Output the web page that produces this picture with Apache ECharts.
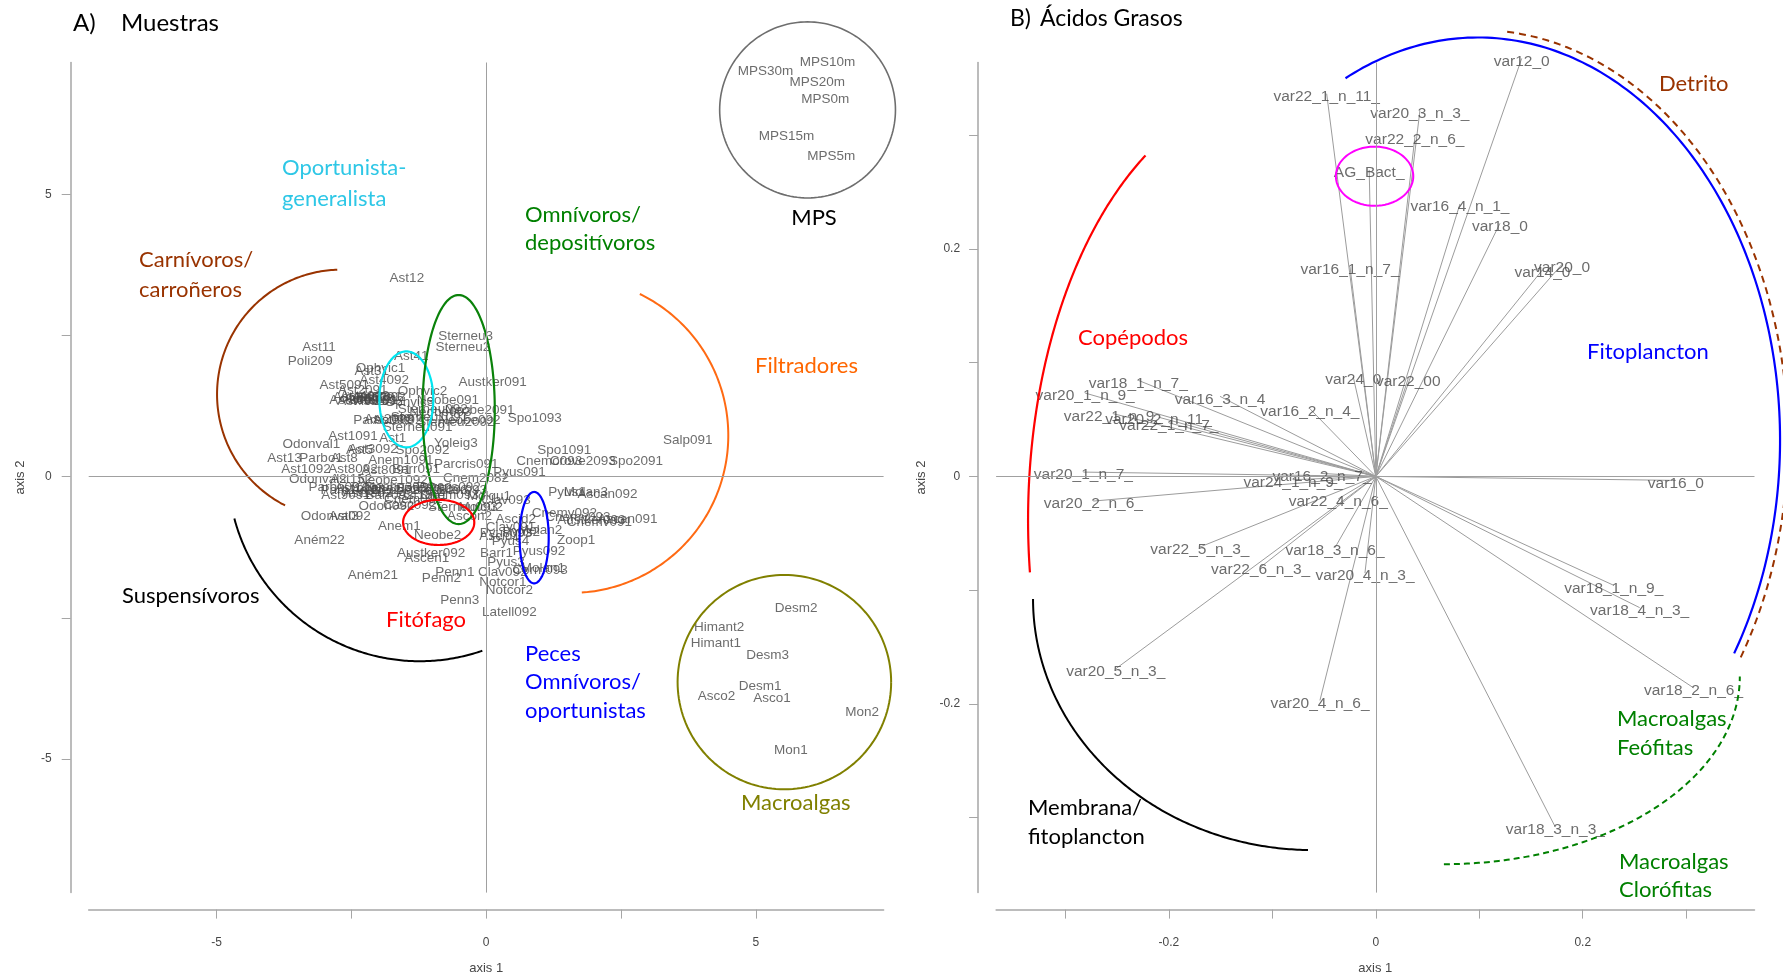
<!DOCTYPE html>
<html>
<head>
<meta charset="utf-8">
<title>Muestras / Ácidos Grasos</title>
<script src="https://cdn.jsdelivr.net/npm/echarts@6/dist/echarts.min.js"></script>
<style>
  html, body { margin: 0; padding: 0; background: #ffffff; }
  #chart { width: 1783px; height: 976px; }
</style>
</head>
<body>
<div id="chart"></div>
<script>
// ---- Panel A: sample scores on axis 1 / axis 2 ----
const sampleNames = [
  'MPS10m','MPS30m','MPS20m','MPS0m','MPS15m','MPS5m',
  'Desm2','Himant2','Himant1','Desm3','Desm1','Asco2','Asco1','Mon2','Mon1',
  'Ast12','Sterneu3','Sterneu2','Ast11','Poli209','Ast41','Ophvic1','Ast31','Ast4092','Austker091',
  'Ast5091','Ast2091','Ophvic2','Ast4091','Ast6092','Ast3091','Ast7091','Ast2092','Neobe091','Ophvic3',
  'Sterneu092','Neobe2091','Parbo091','Ast5092','Sterneu2092','Neobe092','Sterneu091','Ast1091','Ast1','Yoleig3',
  'Odonval1','Ast5','Ast3092','Spo2092','Ast13','Parbo1','Ast8','Anem1091','Ast1092','Ast8092',
  'Ast8091','Barr091','Parcris091','Pyus091','Cnem2082','Odonval2','Ast152','Neobe1092','Parb1092','Ast9092',
  'Neobe2092','Parcris093','Barr093','Ast9091','Barr092','Ast1801','Cnem093','Odon092','Casc092','Sterneu093',
  'Odonval3','Ast092','Ascon2','Anem1','Neobe2','Aném22','Austker092','Ascen1','Penn1','Penn2',
  'Penn3','Aném21','Spo1093','Salp091','Spo1091','Cnemo093','Crove2093','Spo2091','Pyus1','Molan3',
  'Ascan092','Cnemv092','Ascan091','Austker093','Cnemv091','Zoop1','Clav093','Clav091','Pyus093','Ascid1',
  'Pyus2','Pyus092','Barr1','Pyus3','Clav092','Molan1','Notcor1','Notcor2','Latell092','Molgu1',
  'Molgu2','Molan2','Corm093',
  'Ast4093','Ast6091','Ast7092','Ast3093','Neobe093','Sterneu1091','Ast2093','Parbo092','Ast1093','Neobe3092',
  'Barr2092','Parcris092','Ast1802','Cnem091','Ascid2','Pyus4','Cnemv093'
];
const sampleX = [
  6.33, 5.18, 6.14, 6.29, 5.57, 6.40,
  5.75, 4.32, 4.26, 5.22, 5.08, 4.27, 5.30, 6.97, 5.65,
  -1.47, -0.38, -0.43, -3.10, -3.26, -1.39, -1.96, -2.12, -1.89, 0.12,
  -2.63, -2.29, -1.18, -2.38, -2.18, -2.02, -2.30, -1.98, -0.71, -1.42,
  -0.99, -0.12, -1.92, -1.64, -0.56, -0.31, -1.27, -2.47, -1.73, -0.56,
  -3.24, -2.35, -2.10, -1.18, -3.74, -3.06, -2.63, -1.58, -3.34, -2.47,
  -1.85, -1.30, -0.37, 0.62, -0.19, -3.12, -2.50, -1.73, -2.53, -2.04,
  -1.48, -0.93, -0.43, -2.60, -1.79, -1.18, -0.68, -1.85, -1.42, -0.43,
  -2.90, -2.53, -0.31, -1.61, -0.90, -3.09, -1.02, -1.10, -0.58, -0.83,
  -0.49, -2.10, 0.90, 3.74, 1.45, 1.17, 1.79, 2.78, 1.50, 1.85,
  2.25, 1.45, 2.62, 1.95, 2.10, 1.67, 0.37, 0.45, 0.37, 0.25,
  0.65, 0.98, 0.19, 0.37, 0.31, 1.05, 0.31, 0.43, 0.43, 0.05,
  -0.10, 1.00, 1.00,
  -2.25, -2.10, -1.95, -2.45, -0.85, -1.05, -1.80, -2.75, -2.35, -1.60,
  -1.15, -0.70, -2.20, -1.35, 0.55, 0.45, 1.70
];
const sampleY = [
  7.34, 7.19, 6.99, 6.69, 6.04, 5.68,
  -2.33, -2.66, -2.96, -3.17, -3.71, -3.89, -3.92, -4.18, -4.85,
  3.51, 2.49, 2.30, 2.29, 2.05, 2.13, 1.93, 1.87, 1.71, 1.67,
  1.62, 1.53, 1.52, 1.40, 1.37, 1.40, 1.33, 1.33, 1.35, 1.31,
  1.19, 1.17, 1.00, 1.00, 0.97, 1.00, 0.87, 0.72, 0.68, 0.60,
  0.58, 0.47, 0.48, 0.47, 0.33, 0.33, 0.33, 0.29, 0.14, 0.13,
  0.11, 0.14, 0.22, 0.08, -0.02, -0.05, -0.05, -0.06, -0.24, -0.24,
  -0.24, -0.24, -0.24, -0.33, -0.33, -0.33, -0.33, -0.53, -0.51, -0.54,
  -0.70, -0.70, -0.71, -0.88, -1.04, -1.12, -1.36, -1.45, -1.69, -1.80,
  -2.19, -1.75, 1.03, 0.65, 0.46, 0.27, 0.27, 0.27, -0.27, -0.27,
  -0.31, -0.64, -0.75, -0.77, -0.80, -1.12, -0.42, -0.90, -1.01, -1.05,
  -0.98, -1.33, -1.36, -1.51, -1.69, -1.63, -1.87, -2.01, -2.40, -0.35,
  -0.55, -0.95, -1.65,
  1.42, 1.36, 1.40, 1.36, 1.15, 1.05, 1.02, -0.18, -0.20, -0.18,
  -0.20, -0.18, -0.30, -0.40, -0.75, -1.15, -0.72
];

// ---- Panel B: fatty acid loadings (vector tips) ----
const acidNames = [
  'var12_0','var22_1_n_11_','var20_3_n_3_','var22_2_n_6_','AG_Bact_','var16_4_n_1_','var18_0','var20_0','var14_0','var16_1_n_7_',
  'var24_0','var22_00','var18_1_n_7_','var20_1_n_9_','var16_3_n_4','var16_2_n_4_','var22_1_n_9_','var20_2_n_11_','var22_1_n_7_','var20_1_n_7_',
  'var24_1_n_9_','var16_2_n_7_','var22_4_n_6_','var20_2_n_6_','var22_5_n_3_','var18_3_n_6_','var22_6_n_3_','var20_4_n_3_','var20_5_n_3_','var20_4_n_6_',
  'var16_0','var18_1_n_9_','var18_4_n_3_','var18_2_n_6_','var18_3_n_3_'
];
const acidX = [
  0.141, -0.0475, 0.0426, 0.0378, -0.0064, 0.0813, 0.120, 0.180, 0.161, -0.025,
  -0.0218, 0.0313, -0.2296, -0.281, -0.1506, -0.0637, -0.2537, -0.210, -0.200, -0.2827,
  -0.080, -0.052, -0.0363, -0.273, -0.170, -0.0395, -0.1113, -0.0105, -0.2514, -0.054,
  0.290, 0.230, 0.255, 0.307, 0.1735
];
const acidY = [
  0.3676, 0.3366, 0.3216, 0.2986, 0.2696, 0.2396, 0.2226, 0.1866, 0.1816, 0.1846,
  0.0874, 0.0859, 0.0845, 0.0733, 0.0704, 0.0595, 0.0551, 0.0521, 0.0471, 0.0038,
  -0.0029, 0.0026, -0.0197, -0.0217, -0.0621, -0.0627, -0.0797, -0.0850, -0.1692, -0.1970,
  -0.0035, -0.0958, -0.1154, -0.1859, -0.3084
];

// ---- tick marks and tick labels ----
const ticksA = [-5, -2.5, 0, 2.5, 5];
const tickLabelsA = [-5, 0, 5];
const ticksB = [-0.3, -0.2, -0.1, 0, 0.1, 0.2, 0.3];
const tickLabelsB = [-0.2, 0, 0.2];

// ---- group outlines in axis units: [centre x, centre y, radius x, radius y, from deg, to deg] ----
const groupOutlinesA = [
  [5.96, 6.50, 1.63, 1.56, 0, 360],     // MPS
  [5.53, -3.64, 1.98, 1.90, 0, 360],    // Macroalgas
  [-2.68, 1.46, 2.31, 2.21, 92, 243],   // Carnívoros/carroñeros
  [-1.23, 0.14, 3.56, 3.41, 195, 289],  // Suspensívoros
  [1.57, 0.73, 2.92, 2.79, -86, 64],    // Filtradores
  [-1.48, 1.37, 0.50, 0.85, 0, 360],    // Oportunista-generalista
  [-0.51, 1.19, 0.67, 2.03, 0, 360],    // Omnívoros/depositívoros
  [-0.88, -0.81, 0.66, 0.40, 0, 360],   // Fitófago
  [0.89, -1.08, 0.27, 0.81, 0, 360]     // Peces
];
const groupStylesA = [
  { color: '#6e6e6e', width: 1.6 },
  { color: '#808000', width: 2 },
  { color: '#993300', width: 2 },
  { color: '#000000', width: 2 },
  { color: '#ff6a13', width: 2 },
  { color: '#00e5f0', width: 2.2 },
  { color: '#0a820a', width: 2.2 },
  { color: '#ff0000', width: 2.2 },
  { color: '#0000ff', width: 2.2 }
];
const groupOutlinesB = [
  [0.0987, 0.032, 0.292, 0.354, -32, 116],     // Fitoplancton
  [0.0987, 0.032, 0.2995, 0.3606, -32, 85],    // Detrito
  [-0.0946, -0.0383, 0.2415, 0.378, 122, 187], // Copépodos
  [-0.0608, -0.1078, 0.2705, 0.2208, 180, 269],// Membrana/fitoplancton
  [0.0658, -0.176, 0.286, 0.165, 270, 360],    // Macroalgas
  [-0.0012, 0.264, 0.0374, 0.026, 0, 360]      // AG_Bact_
];
const groupStylesB = [
  { color: '#0000ff', width: 2.2 },
  { color: '#993300', width: 2, dash: [7, 5] },
  { color: '#ff0000', width: 2.2 },
  { color: '#000000', width: 2 },
  { color: '#008000', width: 2, dash: [6, 4] },
  { color: '#ff00ff', width: 2 }
];

const AXIS_GREY = '#a6a6a6';
const TEXT_GREY = '#474747';
const LABEL_FONT = '"Liberation Sans", Arial, sans-serif';
const NOTE_FONT = 'Lato, "Open Sans", sans-serif';

function outlineRenderer(styles) {
  return function (params, api) {
    const cx = api.value(0), cy = api.value(1), rx = api.value(2), ry = api.value(3);
    const a0 = api.value(4), a1 = api.value(5);
    const pts = [];
    const steps = 160;
    for (let i = 0; i <= steps; i++) {
      const t = (a0 + (a1 - a0) * i / steps) * Math.PI / 180;
      pts.push(api.coord([cx + rx * Math.cos(t), cy + ry * Math.sin(t)]));
    }
    const s = styles[params.dataIndex];
    return {
      type: 'polyline',
      shape: { points: pts },
      style: { fill: null, stroke: s.color, lineWidth: s.width, lineDash: s.dash || null }
    };
  };
}

function valueAxis(grid, lo, hi, ticks, labels, offset, name, nameGap, labelMargin) {
  return {
    type: 'value', gridIndex: grid, min: lo, max: hi, offset: offset,
    name: name, nameLocation: 'middle', nameGap: nameGap,
    nameTextStyle: { color: TEXT_GREY, fontSize: 13, fontFamily: LABEL_FONT },
    axisLine: { show: true, onZero: false, lineStyle: { color: AXIS_GREY, width: 1.5 } },
    axisTick: { show: true, customValues: ticks, length: 9, lineStyle: { color: AXIS_GREY, width: 1 } },
    axisLabel: { customValues: labels, margin: labelMargin, color: TEXT_GREY, fontSize: 12, fontFamily: LABEL_FONT,
                 formatter: v => String(v) },
    splitLine: { show: false }
  };
}

const zeroLines = {
  silent: true, symbol: 'none', animation: false,
  lineStyle: { color: '#a0a0a0', width: 1, type: 'solid' },
  label: { show: false },
  data: [{ xAxis: 0 }, { yAxis: 0 }]
};

function noteText(text, x, y, color, size, align) {
  return {
    type: 'text', x: x, y: y, silent: true,
    style: { text: text, fill: color, font: (size || 22) + 'px ' + NOTE_FONT,
             align: align || 'left', verticalAlign: 'middle' }
  };
}

const chart = echarts.init(document.getElementById('chart'), null, { renderer: 'canvas' });

chart.setOption({
  animation: false,
  backgroundColor: '#ffffff',
  grid: [
    { left: 88.7, top: 62.5, width: 794.9, height: 830.1, containLabel: false, outerBoundsMode: 'none' },
    { left: 996.1, top: 62.5, width: 758.4, height: 830.1, containLabel: false, outerBoundsMode: 'none' }
  ],
  xAxis: [
    valueAxis(0, -7.37, 7.37, ticksA, tickLabelsA, 17, 'axis 1', 52, 27),
    valueAxis(1, -0.367, 0.366, ticksB, tickLabelsB, 17, 'axis 1', 52, 27)
  ],
  yAxis: [
    valueAxis(0, -7.37, 7.34, ticksA, tickLabelsA, 18, 'axis 2', 44, 19),
    valueAxis(1, -0.366, 0.364, ticksB, tickLabelsB, 18, 'axis 2', 50, 18)
  ],
  series: [
    // sample labels, centred on their scores
    {
      type: 'scatter', xAxisIndex: 0, yAxisIndex: 0, silent: true, clip: false,
      symbolSize: 1, itemStyle: { color: 'rgba(0,0,0,0)' },
      data: sampleNames.map((n, i) => ({ name: n, value: [sampleX[i], sampleY[i]] })),
      label: { show: true, position: 'inside', formatter: '{b}', color: TEXT_GREY,
               fontSize: 13.5, fontFamily: LABEL_FONT },
      markLine: zeroLines,
      z: 3
    },
    // loading vectors from the origin
    {
      type: 'custom', xAxisIndex: 1, yAxisIndex: 1, silent: true, clip: false,
      data: acidX.map((x, i) => [x, acidY[i]]),
      encode: { x: 0, y: 1 },
      renderItem: function (params, api) {
        const o = api.coord([0, 0]);
        const p = api.coord([api.value(0), api.value(1)]);
        return { type: 'line', shape: { x1: o[0], y1: o[1], x2: p[0], y2: p[1] },
                 style: { stroke: '#9c9c9c', lineWidth: 1 } };
      },
      markLine: zeroLines,
      z: 2
    },
    // fatty acid labels just under the vector tips
    {
      type: 'scatter', xAxisIndex: 1, yAxisIndex: 1, silent: true, clip: false,
      symbolSize: 1, itemStyle: { color: 'rgba(0,0,0,0)' },
      data: acidNames.map((n, i) => ({ name: n, value: [acidX[i], acidY[i]] })),
      label: { show: true, position: 'inside', offset: [0, 3], formatter: '{b}', color: TEXT_GREY,
               fontSize: 15.5, fontFamily: LABEL_FONT },
      z: 3
    },
    // group outlines, panel A
    {
      type: 'custom', xAxisIndex: 0, yAxisIndex: 0, silent: true, clip: false,
      data: groupOutlinesA, encode: { x: 0, y: 1 },
      renderItem: outlineRenderer(groupStylesA), z: 4
    },
    // group outlines, panel B
    {
      type: 'custom', xAxisIndex: 1, yAxisIndex: 1, silent: true, clip: false,
      data: groupOutlinesB, encode: { x: 0, y: 1 },
      renderItem: outlineRenderer(groupStylesB), z: 4
    }
  ],
  graphic: [
    noteText('A)', 73, 23, '#000000', 24),
    noteText('Muestras', 121, 23, '#000000', 24),
    noteText('B)', 1010, 19, '#000000', 23),
    noteText('Ácidos Grasos', 1040, 19, '#000000', 23),

    noteText('Oportunista-', 282, 168, '#2ec7e6'),
    noteText('generalista', 282, 199, '#2ec7e6'),
    noteText('Carnívoros/', 139, 260, '#993300'),
    noteText('carroñeros', 139, 290, '#993300'),
    noteText('Omnívoros/', 525, 215, '#008000'),
    noteText('depositívoros', 525, 243, '#008000'),
    noteText('MPS', 814, 218, '#000000', 22, 'center'),
    noteText('Filtradores', 755, 366, '#ff6600'),
    noteText('Suspensívoros', 122, 596, '#000000'),
    noteText('Fitófago', 386, 620, '#ff0000'),
    noteText('Peces', 525, 654, '#0000ff'),
    noteText('Omnívoros/', 525, 682, '#0000ff'),
    noteText('oportunistas', 525, 711, '#0000ff'),
    noteText('Macroalgas', 741, 803, '#808000'),

    noteText('Detrito', 1659, 84, '#993300'),
    noteText('Copépodos', 1078, 338, '#ff0000'),
    noteText('Fitoplancton', 1587, 352, '#0000ff'),
    noteText('Membrana/', 1028, 808, '#000000'),
    noteText('fitoplancton', 1028, 837, '#000000'),
    noteText('Macroalgas', 1617, 719, '#008000'),
    noteText('Feófitas', 1617, 748, '#008000'),
    noteText('Macroalgas', 1619, 862, '#008000'),
    noteText('Clorófitas', 1619, 890, '#008000')
  ]
});
</script>
</body>
</html>
